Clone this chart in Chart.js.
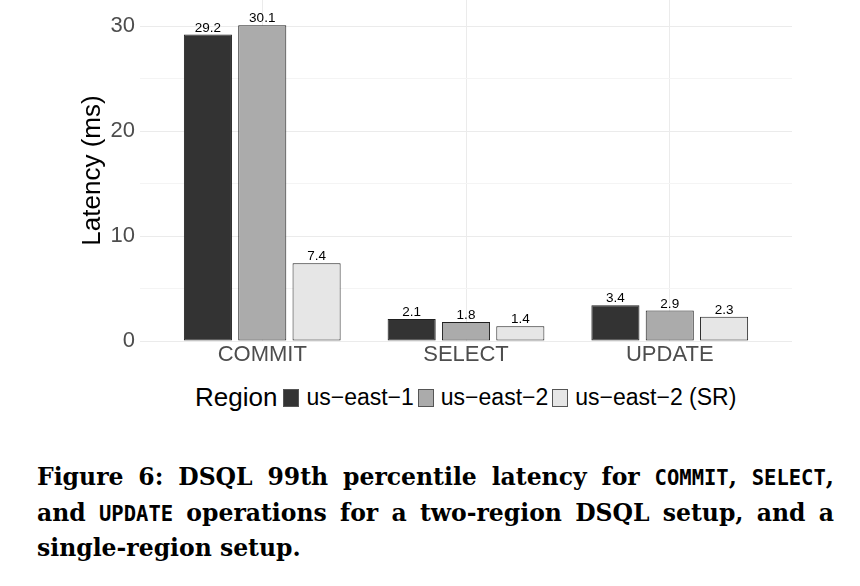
<!DOCTYPE html>
<html>
<head>
<meta charset="utf-8">
<script src="https://cdn.jsdelivr.net/npm/chart.js@4"></script>
<style>
  html, body { margin:0; padding:0; background:#fff; }
  body { width:860px; height:586px; position:relative; overflow:hidden; }
  #wrap { position:absolute; left:0; top:0; width:860px; height:372px; }
  #legend { position:absolute; left:195px; top:380px; height:35px; display:flex; align-items:center;
            font-family:"Liberation Sans", Arial, sans-serif; color:#000; white-space:nowrap; }
  #legend .title { font-size:26px; margin-right:6px; }
  #legend .key { width:14px; height:16px; border:1px solid #555; margin-right:7px; }
  #legend .lbl { font-size:23px; margin-right:4px; }
  #caption { position:absolute; left:37px; top:460px; width:797px;
             font-family:"DejaVu Serif", serif; font-weight:bold; font-size:23.5px; color:#000; }
  #caption .line { height:35.7px; line-height:35.7px; }
  #caption .just { text-align:justify; text-align-last:justify; }
  #caption code { font-family:"DejaVu Sans Mono", monospace; font-size:20.5px; font-weight:bold; }
</style>
</head>
<body>
<div id="wrap"><canvas id="chart" width="860" height="372"></canvas></div>
<div id="legend"></div>
<div id="caption">
  <div class="line just">Figure 6: DSQL 99th percentile latency for <code>COMMIT</code>, <code>SELECT</code>,</div>
  <div class="line just">and <code>UPDATE</code> operations for a two-region DSQL setup, and a</div>
  <div class="line">single-region setup.</div>
</div>
<script>
// data
const categories = ["COMMIT", "SELECT", "UPDATE"];
const regions = ["us\u2212east\u22121", "us\u2212east\u22122", "us\u2212east\u22122 (SR)"];
const usEast1 = [29.2, 2.1, 3.4];
const usEast2 = [30.1, 1.8, 2.9];
const usEast2SR = [7.4, 1.4, 2.3];
const yTicks = [0, 5, 10, 15, 20, 25, 30];
const yMax = 32.5;

const fills = ["#333333", "#ababab", "#e6e6e6"];
const series = [usEast1, usEast2, usEast2SR];

Chart.defaults.font.family = '"Liberation Sans", Arial, sans-serif';

// value labels above each bar
const barLabels = {
  id: "barLabels",
  afterDatasetsDraw(chart) {
    const ctx = chart.ctx;
    ctx.save();
    ctx.font = '13.5px "Liberation Sans", Arial, sans-serif';
    ctx.fillStyle = "#000";
    ctx.textAlign = "center";
    ctx.textBaseline = "alphabetic";
    chart.data.datasets.forEach((ds, i) => {
      chart.getDatasetMeta(i).data.forEach((bar, j) => {
        ctx.fillText(ds.data[j].y.toFixed(1), bar.x, bar.y - 3);
      });
    });
    ctx.restore();
  }
};

new Chart(document.getElementById("chart"), {
  type: "bar",
  data: {
    datasets: series.map((vals, i) => ({
      label: regions[i],
      data: vals.map((v, j) => ({ x: j + 1, y: v })),
      backgroundColor: fills[i],
      borderColor: "#1f1f1f",
      borderWidth: 1,
      borderSkipped: false,
      categoryPercentage: 0.8,
      barPercentage: 0.885
    }))
  },
  options: {
    responsive: false,
    animation: false,
    devicePixelRatio: 1,
    layout: { padding: { left: 0, right: 68, top: 0, bottom: 0 } },
    plugins: { legend: { display: false }, tooltip: { enabled: false } },
    scales: {
      x: {
        type: "linear",
        min: 0.4,
        max: 3.6,
        offset: false,
        afterBuildTicks: s => { s.ticks = categories.map((c, i) => ({ value: i + 1 })); },
        afterFit: s => { s.height = 31; },
        ticks: {
          callback: v => categories[v - 1],
          color: "#4d4d4d",
          font: { size: 22 },
          padding: 1,
          maxRotation: 0
        },
        grid: { color: "#ebebeb", lineWidth: 1, drawTicks: false, offset: false },
        border: { display: false }
      },
      y: {
        min: 0,
        max: yMax,
        afterBuildTicks: s => { s.ticks = yTicks.map(v => ({ value: v })); },
        // panel runs to the very top of the figure, like the cropped original
        afterFit: s => { s.width = 140; s.paddingTop = 0; },
        ticks: {
          callback: v => (v % 10 === 0 ? v : ""),
          color: "#4d4d4d",
          font: { size: 22 },
          padding: 0
        },
        grid: {
          color: c => (c.tick && c.tick.value % 10 === 0 ? "#ebebeb" : "#f4f4f4"),
          lineWidth: 1,
          drawTicks: true,
          tickLength: 5,
          tickColor: "rgba(0,0,0,0)"
        },
        border: { display: false },
        title: {
          display: true,
          text: "Latency (ms)",
          color: "#000",
          font: { size: 26 },
          padding: { top: 77 }
        }
      }
    }
  },
  plugins: [barLabels]
});

// legend in the ggplot style: title then keys in one row
const legend = document.getElementById("legend");
legend.innerHTML = '<span class="title">Region</span>' +
  regions.map((r, i) =>
    '<span class="key" style="background:' + fills[i] + '"></span><span class="lbl">' + r + "</span>"
  ).join("");
</script>
</body>
</html>
